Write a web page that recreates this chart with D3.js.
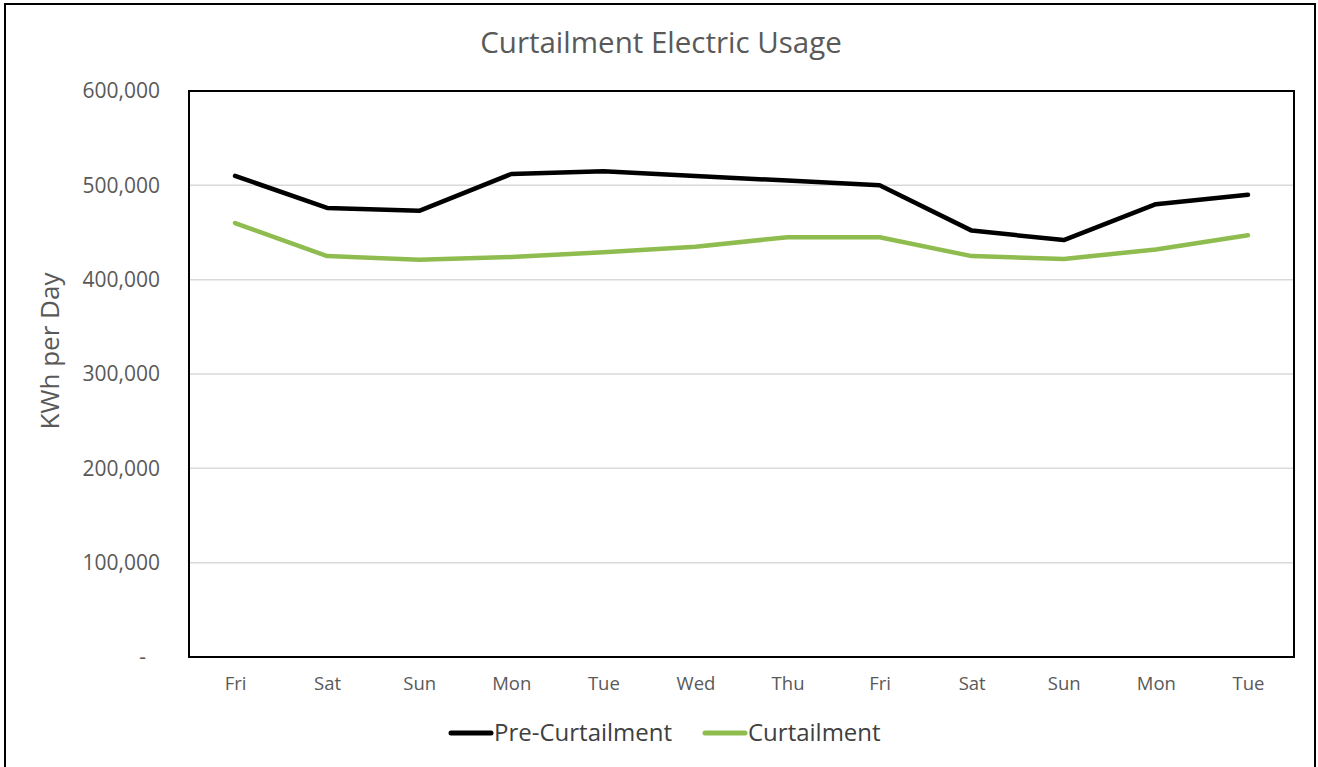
<!DOCTYPE html>
<html>
<head>
<meta charset="utf-8">
<script src="https://cdn.jsdelivr.net/npm/d3@7"></script>
<style>
  body { margin: 0; background: #fff; }
  svg { font-family: "Open Sans", "Noto Sans", sans-serif; }
</style>
</head>
<body>
<div class="graph"></div>
<script>
const days = ['Fri', 'Sat', 'Sun', 'Mon', 'Tue', 'Wed', 'Thu', 'Fri', 'Sat', 'Sun', 'Mon', 'Tue'];
const preCurtailment = [510000, 476000, 473000, 512000, 515000, 510000, 505000, 500000, 452000, 442000, 480000, 490000];
const curtailment = [460000, 425000, 421000, 424000, 429000, 435000, 445000, 445000, 425000, 422000, 432000, 447000];
const yTicks = [0, 100000, 200000, 300000, 400000, 500000, 600000];

const series = [
    { name: 'Pre-Curtailment', values: preCurtailment, color: '#000000' },
    { name: 'Curtailment', values: curtailment, color: '#8fbc4f' }
];

const svgDim = { w: 1318, h: 767 };
const plot = { left: 189, right: 1294, top: 91, bottom: 657 };

const svg = d3.select('.graph').append('svg')
    .attr('width', svgDim.w).attr('height', svgDim.h);

// outer frame
svg.append('rect').attr('x', 5).attr('y', 4).attr('width', 1310).attr('height', 770)
    .attr('fill', 'none').attr('stroke', '#000').attr('stroke-width', 2);

// x positions: one band per day, point in the middle
const xScale = d3.scalePoint()
    .domain(d3.range(days.length))
    .range([plot.left, plot.right])
    .padding(0.5);

const yScale = d3.scaleLinear()
    .domain([0, 600000])
    .range([plot.bottom, plot.top]);

// gridlines
svg.append('g')
    .selectAll('line')
    .data(yTicks.filter(d => d > 0 && d < 600000))
    .join('line')
    .attr('x1', plot.left).attr('x2', plot.right)
    .attr('y1', d => yScale(d)).attr('y2', d => yScale(d))
    .attr('stroke', '#d9d9d9').attr('stroke-width', 1.5);

// y axis labels
const yAxis = d3.axisLeft(yScale)
    .tickValues(yTicks)
    .tickSize(0)
    .tickPadding(29)
    .tickFormat(d => d === 0 ? '-' : d3.format(',')(d));
const yG = svg.append('g').attr('transform', `translate(${plot.left},0)`).call(yAxis)
    .attr('font-family', null).attr('font-size', null);
yG.select('.domain').remove();
yG.selectAll('text').attr('fill', '#595959').style('font-size', '21px');
yG.selectAll('.tick').filter(d => d === 0).select('text').attr('dx', -14);

// x axis labels
const xAxis = d3.axisBottom(xScale).tickSize(0).tickPadding(20).tickFormat(i => days[i]);
const xG = svg.append('g').attr('transform', `translate(0,${plot.bottom})`).call(xAxis)
    .attr('font-family', null).attr('font-size', null);
xG.select('.domain').remove();
xG.selectAll('text').attr('fill', '#595959').style('font-size', '18.5px');

// plot border
svg.append('rect')
    .attr('x', plot.left).attr('y', plot.top)
    .attr('width', plot.right - plot.left).attr('height', plot.bottom - plot.top)
    .attr('fill', 'none').attr('stroke', '#000').attr('stroke-width', 2);

// lines
const line = d3.line().x((d, i) => xScale(i)).y(d => yScale(d));
series.forEach(s => {
    svg.append('path')
        .datum(s.values)
        .attr('d', line)
        .attr('fill', 'none')
        .attr('stroke', s.color)
        .attr('stroke-width', 4.5)
        .attr('stroke-linejoin', 'round')
        .attr('stroke-linecap', 'round');
});

// title
svg.append('text')
    .attr('x', 661).attr('y', 53)
    .attr('text-anchor', 'middle')
    .attr('fill', '#595959')
    .style('font-size', '29.5px')
    .text('Curtailment Electric Usage');

// y axis title
svg.append('text')
    .attr('transform', 'translate(59,351) rotate(-90)')
    .attr('text-anchor', 'middle')
    .attr('fill', '#595959')
    .style('font-size', '26px')
    .text('KWh per Day');

// legend
const legendX = [449, 703];
series.forEach((s, i) => {
    const g = svg.append('g').attr('transform', `translate(${legendX[i]},733)`);
    g.append('line').attr('x1', 2).attr('x2', 42).attr('y1', 0).attr('y2', 0)
        .attr('stroke', s.color).attr('stroke-width', 5).attr('stroke-linecap', 'round');
    g.append('text').attr('x', 45).attr('y', 8)
        .attr('fill', '#404040').style('font-size', '24px')
        .text(s.name);
});
</script>
</body>
</html>
